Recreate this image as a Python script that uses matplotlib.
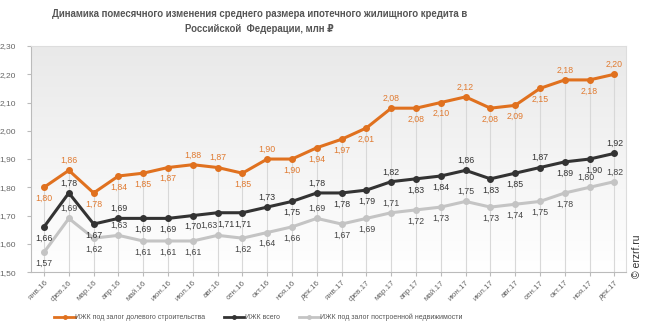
import numpy as np
import matplotlib
matplotlib.use('Agg')
import matplotlib.pyplot as plt
from matplotlib.lines import Line2D

plt.rcParams['font.family'] = ['Liberation Sans', 'DejaVu Sans']

months = ['янв.16', 'фев.16', 'мар.16', 'апр.16', 'май.16', 'июн.16', 'июл.16', 'авг.16',
          'сен.16', 'окт.16', 'ноя.16', 'дек.16', 'янв.17', 'фев.17', 'мар.17', 'апр.17',
          'май.17', 'июн.17', 'июл.17', 'авг.17', 'сен.17', 'окт.17', 'ноя.17', 'дек.17']

shared = [1.80, 1.86, 1.78, 1.84, 1.85, 1.87, 1.88, 1.87, 1.85, 1.90, 1.90, 1.94,
          1.97, 2.01, 2.08, 2.08, 2.10, 2.12, 2.08, 2.09, 2.15, 2.18, 2.18, 2.20]
total = [1.66, 1.78, 1.67, 1.69, 1.69, 1.69, 1.70, 1.71, 1.71, 1.73, 1.75, 1.78,
         1.78, 1.79, 1.82, 1.83, 1.84, 1.86, 1.83, 1.85, 1.87, 1.89, 1.90, 1.92]
built = [1.57, 1.69, 1.62, 1.63, 1.61, 1.61, 1.61, 1.63, 1.62, 1.64, 1.66, 1.69,
         1.67, 1.69, 1.71, 1.72, 1.73, 1.75, 1.73, 1.74, 1.75, 1.78, 1.80, 1.82]

# label placement: 1 = above, -1 = below
shared_pos = [-1, 1, -1, -1, -1, -1, 1, 1, -1, 1, -1, -1, -1, -1, 1, -1, -1, 1, -1, -1, -1, 1, -1, 1]
total_pos = [-1, 1, -1, 1, -1, -1, -1, -1, -1, 1, -1, 1, -1, -1, 1, -1, -1, 1, -1, -1, 1, -1, -1, 1]
built_pos = [-1, 1, -1, 1, -1, -1, -1, 1, -1, -1, -1, 1, -1, -1, 1, -1, -1, 1, -1, -1, -1, -1, 1, 1]
# small sideways nudges where labels would collide
total_dx = {7: 6, 22: 3}
built_dx = {7: -6, 22: -3}

labels = ['ИЖК под залог долевого строительства', 'ИЖК всего',
          'ИЖК под залог построенной недвижимости']

c_orange = '#E0711F'
c_black = '#333333'
c_gray = '#C4C4C4'

fig = plt.figure(figsize=(6.49, 3.31), dpi=100)
ax = fig.add_axes([0.048, 0.178, 0.917, 0.683])

x = np.arange(len(months))
ax.set_xlim(-0.52, 23.48)
ax.set_ylim(1.5, 2.3)

# background gradient
grad = np.linspace(1, 0, 256).reshape(-1, 1)
ax.imshow(grad, extent=[-0.52, 23.48, 1.5, 2.3], aspect='auto', origin='upper',
          cmap=matplotlib.colors.LinearSegmentedColormap.from_list('bg', ['#ffffff', '#e9e9e9']),
          zorder=0)

# drop lines
ax.vlines(x, 1.5, shared, color='#d8d8d8', lw=0.8, zorder=1)

for vals, col, pos, tcol, dx in [(built, c_gray, built_pos, '#444444', built_dx),
                                 (total, c_black, total_pos, '#333333', total_dx),
                                 (shared, c_orange, shared_pos, '#E07A30', {})]:
    ax.plot(x, vals, color=col, lw=2.2, marker='o', ms=4, zorder=3)
    for i, v in enumerate(vals):
        ax.annotate(f'{v:.2f}'.replace('.', ','), (i, v),
                    xytext=(dx.get(i, 0), 7 if pos[i] > 0 else -8),
                    textcoords='offset points', ha='center', va='center',
                    fontsize=6.3, color=tcol, zorder=4)

ax.set_xticks(x)
ax.set_xticklabels(months, rotation=45, ha='right', rotation_mode='anchor', fontsize=5.8, color='#666666')
yt = np.arange(1.5, 2.31, 0.1)
ax.set_yticks(yt)
ax.set_yticklabels([f'{v:.2f}'.replace('.', ',') for v in yt], fontsize=6, color='#666666')
ax.tick_params(axis='both', length=3, color='#bbbbbb', pad=2)
ax.tick_params(axis='y', pad=8)
for s in ax.spines.values():
    s.set_color('#dddddd')
    s.set_linewidth(0.8)
ax.spines['left'].set_color('#bbbbbb')
ax.spines['bottom'].set_color('#bbbbbb')

fig.text(0.40, 0.958, 'Динамика помесячного изменения среднего размера ипотечного жилищного кредита в',
         ha='center', va='center', fontsize=6.9, fontweight='bold', color='#555555')
fig.text(0.40, 0.912, 'Российской  Федерации, млн ₽',
         ha='center', va='center', fontsize=6.9, fontweight='bold', color='#555555')

handles = [Line2D([], [], color=c, lw=2, marker='o', ms=2.5) for c in (c_orange, c_black, c_gray)]
fig.legend(handles, labels, loc='center', bbox_to_anchor=(0.398, 0.04), ncol=3, frameon=False,
           fontsize=5, labelcolor='#555555', handlelength=2.9,
           handletextpad=0.1, columnspacing=2.7)

fig.text(0.982, 0.16, '© erzrf.ru', rotation=90, ha='center', va='bottom', fontsize=7.5, color='#333333')

fig.savefig('out.png', dpi=100)
